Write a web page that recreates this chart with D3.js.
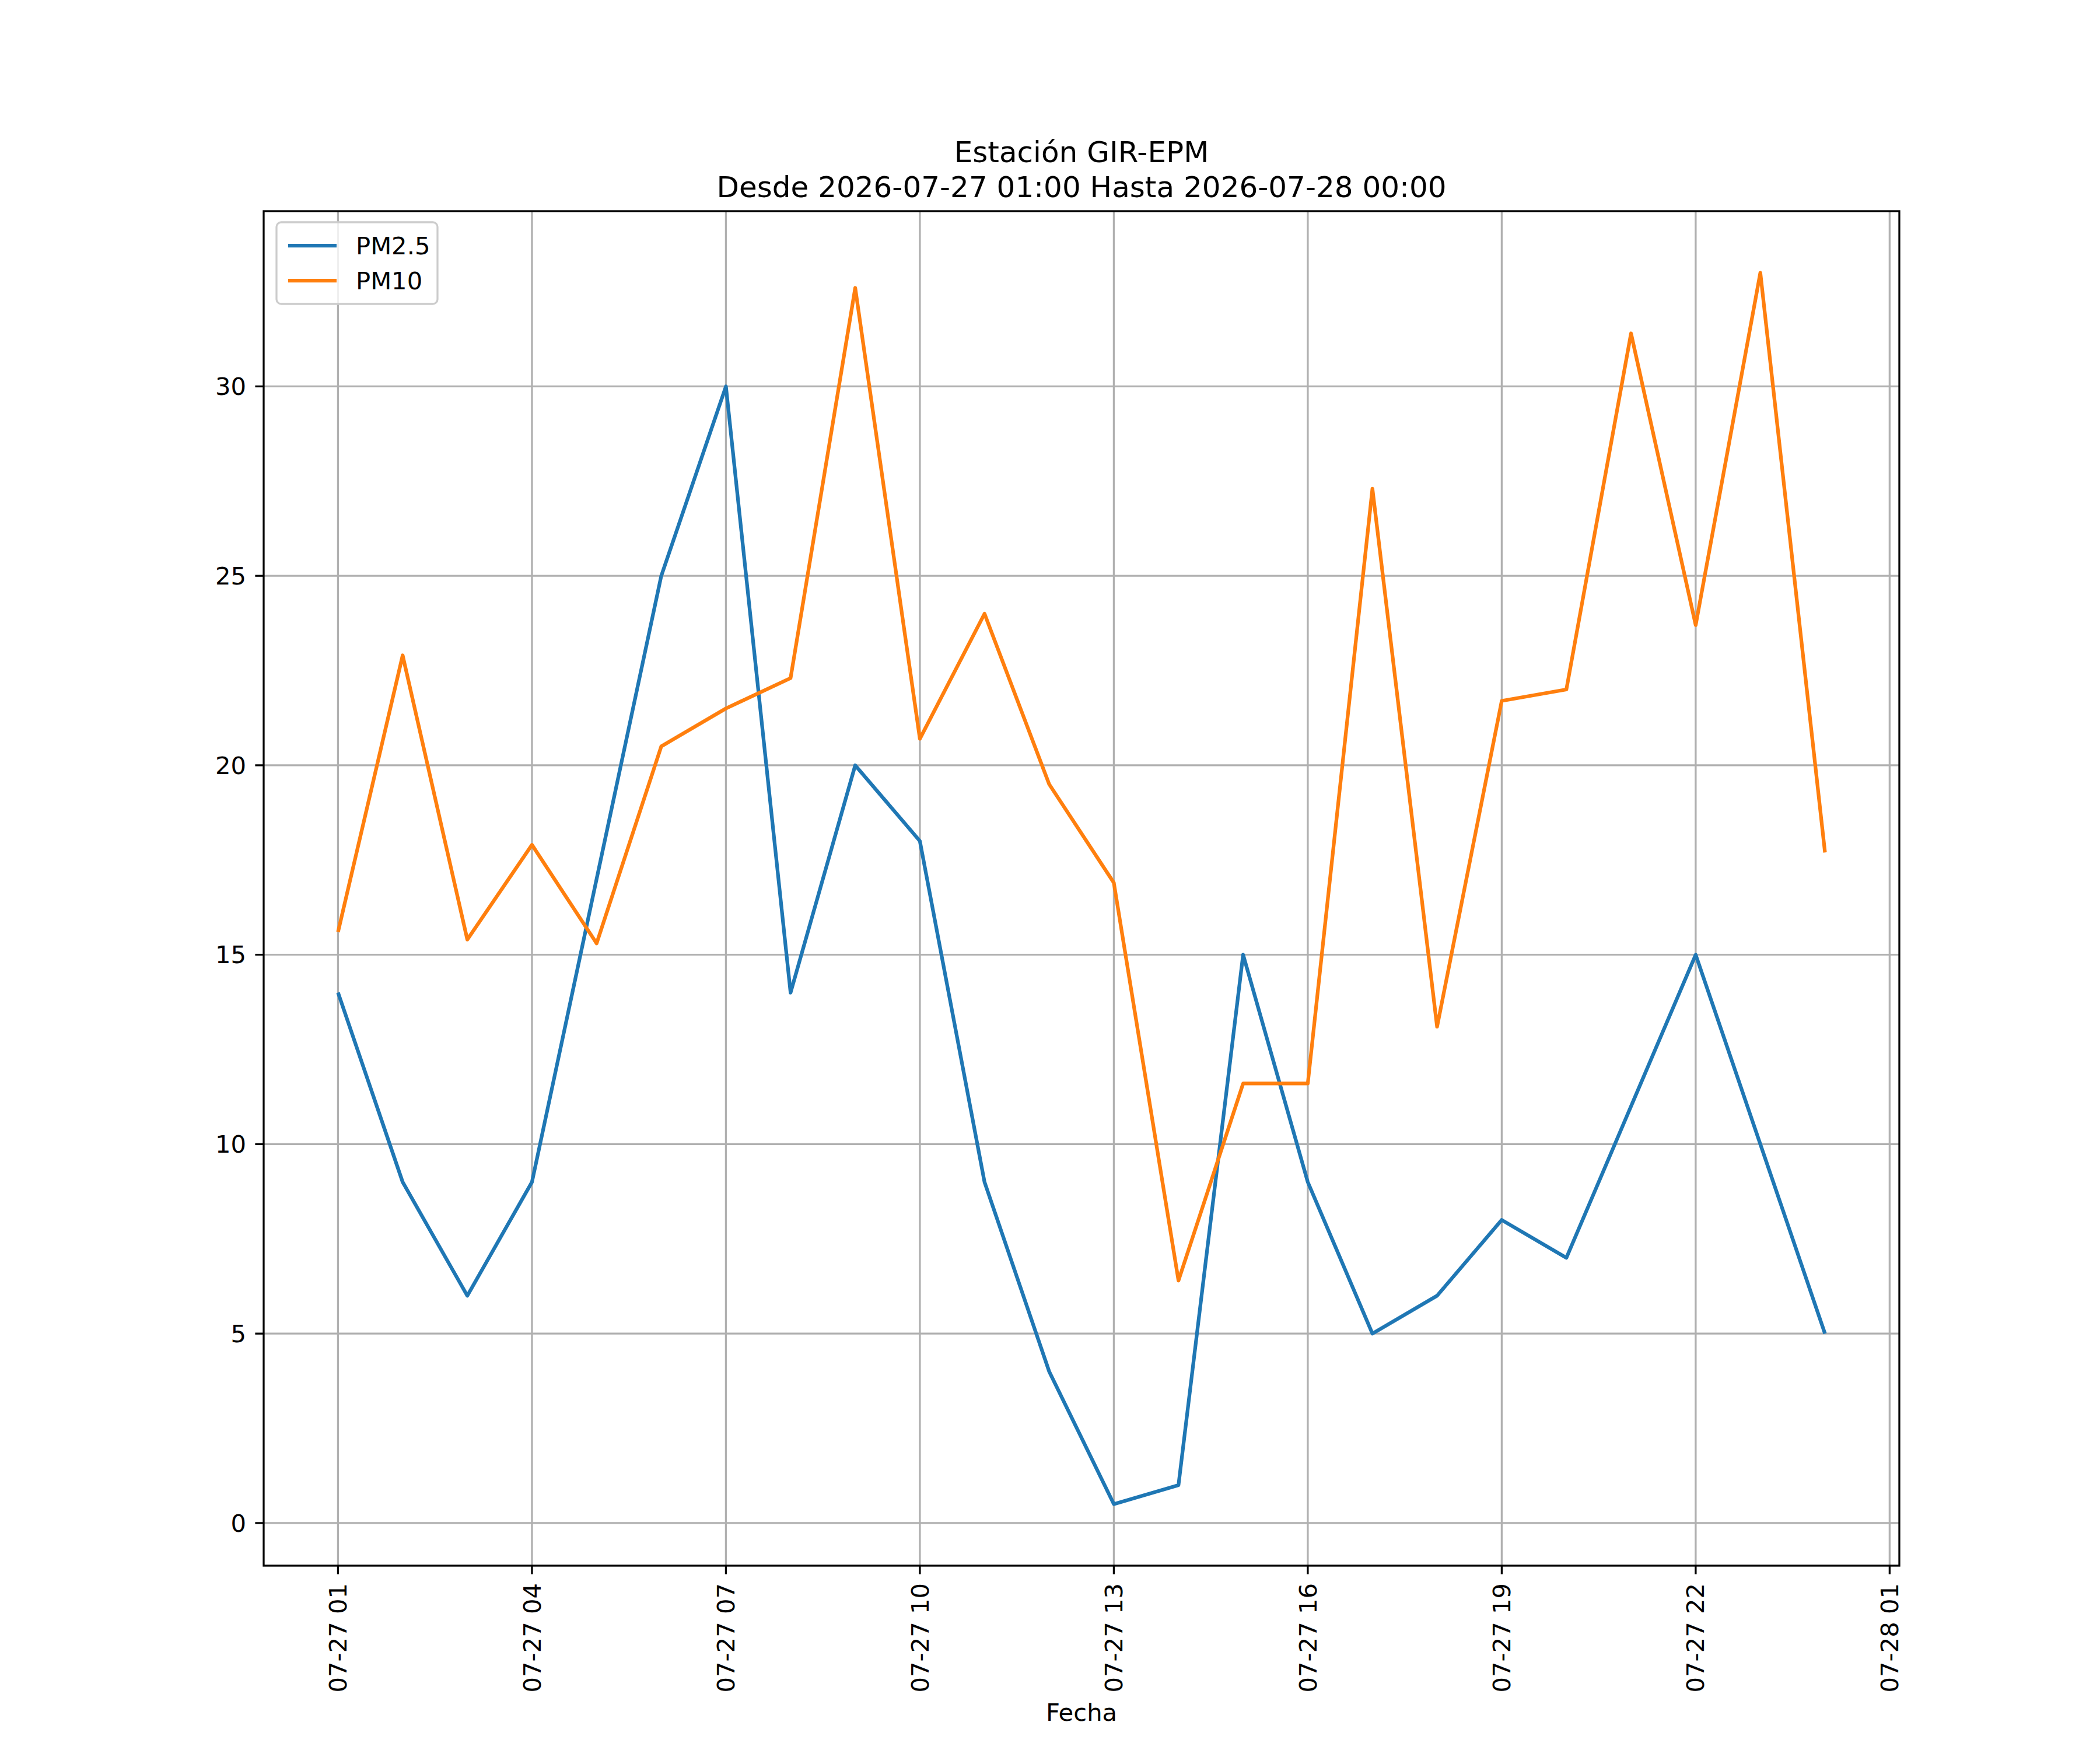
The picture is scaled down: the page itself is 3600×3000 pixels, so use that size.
<!DOCTYPE html>
<html><head><meta charset="utf-8">
<script src="https://cdn.jsdelivr.net/npm/d3@7"></script>
<style>body{margin:0;background:#fff}svg{font-family:"DejaVu Sans",sans-serif}</style>
</head><body><svg id="chart" width="3600" height="3000"></svg>
<script>
var hours = d3.range(1, 25)
var pm25 = [14, 9, 6, 9, 17, 25, 30, 14, 20, 18, 9, 4, 0.5, 1, 15, 9, 5, 6, 8, 7, 11, 15, 10, 5]
var pm10 = [15.6, 22.9, 15.4, 17.9, 15.3, 20.5, 21.5, 22.3, 32.6, 20.7, 24.0, 19.5, 16.9, 6.4, 11.6, 11.6, 27.3, 13.1, 21.7, 22.0, 31.4, 23.7, 33.0, 17.7]
var xTicks = [1, 4, 7, 10, 13, 16, 19, 22, 25]
var xLabels = ["07-27 01", "07-27 04", "07-27 07", "07-27 10", "07-27 13", "07-27 16", "07-27 19", "07-27 22", "07-28 01"]
var yTicks = [0, 5, 10, 15, 20, 25, 30]

var svg = d3.select("#chart")
var L = 452, R = 3256, T = 362, B = 2684

var x = d3.scaleLinear().domain([-0.15, 25.15]).range([L, R])
var y = d3.scaleLinear().domain([-1.125, 34.625]).range([B, T])

// grid
svg.selectAll("gx").data(xTicks).enter().append("line")
    .attr("x1", d => x(d)).attr("x2", d => x(d)).attr("y1", T).attr("y2", B)
    .attr("stroke", "#b0b0b0").attr("stroke-width", 3.3)
svg.selectAll("gy").data(yTicks).enter().append("line")
    .attr("y1", d => y(d)).attr("y2", d => y(d)).attr("x1", L).attr("x2", R)
    .attr("stroke", "#b0b0b0").attr("stroke-width", 3.3)

var line = d3.line().x((d, i) => x(hours[i])).y(d => y(d))
svg.append("path").datum(pm25).attr("d", line).attr("fill", "none")
    .attr("stroke", "#1f77b4").attr("stroke-width", 6.25).attr("stroke-linejoin", "round")
svg.append("path").datum(pm10).attr("d", line).attr("fill", "none")
    .attr("stroke", "#ff7f0e").attr("stroke-width", 6.25).attr("stroke-linejoin", "round")

svg.append("rect").attr("x", L).attr("y", T).attr("width", R - L).attr("height", B - T)
    .attr("fill", "none").attr("stroke", "#000").attr("stroke-width", 3.3)

// ticks
svg.selectAll("tx").data(xTicks).enter().append("line")
    .attr("x1", d => x(d)).attr("x2", d => x(d)).attr("y1", B).attr("y2", B + 14.6)
    .attr("stroke", "#000").attr("stroke-width", 3.3)
svg.selectAll("tlx").data(xTicks).enter().append("text")
    .attr("transform", d => "translate(" + x(d) + "," + (B + 30) + ") rotate(-90)")
    .attr("text-anchor", "end").attr("dy", "0.35em").attr("font-size", 41.7)
    .text((d, i) => xLabels[i])
svg.selectAll("ty").data(yTicks).enter().append("line")
    .attr("y1", d => y(d)).attr("y2", d => y(d)).attr("x1", L).attr("x2", L - 14.6)
    .attr("stroke", "#000").attr("stroke-width", 3.3)
svg.selectAll("tly").data(yTicks).enter().append("text")
    .attr("x", L - 30).attr("y", d => y(d)).attr("dy", "0.35em")
    .attr("text-anchor", "end").attr("font-size", 41.7).text(d => d)

svg.append("text").attr("x", (L + R) / 2).attr("y", 2950).attr("text-anchor", "middle")
    .attr("font-size", 41.7).text("Fecha")
svg.append("text").attr("x", (L + R) / 2).attr("y", 278).attr("text-anchor", "middle")
    .attr("font-size", 50).text("Estación GIR-EPM")
svg.append("text").attr("x", (L + R) / 2).attr("y", 338).attr("text-anchor", "middle")
    .attr("font-size", 50).text("Desde 2026-07-27 01:00 Hasta 2026-07-28 00:00")

// legend
var lg = svg.append("g").attr("transform", "translate(474,381)")
lg.append("rect").attr("width", 276).attr("height", 140).attr("rx", 8)
    .attr("fill", "#fff").attr("fill-opacity", 0.8).attr("stroke", "#ccc").attr("stroke-width", 3.3)
var keys = ["PM2.5", "PM10"], cols = ["#1f77b4", "#ff7f0e"]
keys.forEach(function(k, i) {
    lg.append("line").attr("x1", 20).attr("x2", 103).attr("y1", 40 + i * 60).attr("y2", 40 + i * 60)
        .attr("stroke", cols[i]).attr("stroke-width", 6.25)
    lg.append("text").attr("x", 136).attr("y", 40 + i * 60).attr("dy", "0.35em")
        .attr("font-size", 41.7).text(k)
})
</script></body></html>
